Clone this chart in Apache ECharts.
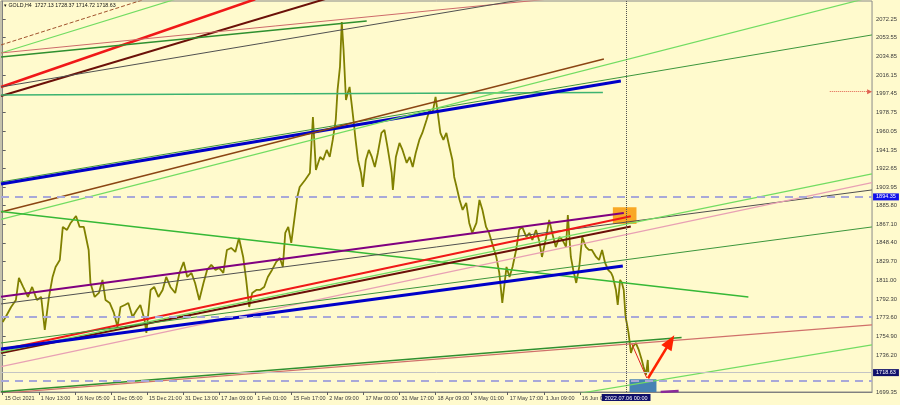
<!DOCTYPE html>
<html>
<head>
<meta charset="utf-8">
<script src="https://cdn.jsdelivr.net/npm/echarts@6/dist/echarts.min.js"></script>
<style>
html,body{margin:0;padding:0;background:#fffacd;}
#c{width:900px;height:405px;}
</style>
</head>
<body>
<div id="c"></div>
<script>
// ---------- DATA ----------
const xTickBars = [0,60,120,180,240,300,360,420,480,540,600,660,720,780,840,900,960];
const xTickLabels = ["15 Oct 2021","1 Nov 13:00","16 Nov 05:00","1 Dec 05:00","15 Dec 21:00","31 Dec 13:00","17 Jan 09:00","1 Feb 01:00","15 Feb 17:00","2 Mar 09:00","17 Mar 00:00","31 Mar 17:00","18 Apr 09:00","3 May 01:00","17 May 17:00","1 Jun 09:00","16 Jun 01:00"];
const yTickValues = [2072.25,2053.55,2034.85,2016.15,1997.45,1978.75,1960.05,1941.35,1922.65,1903.95,1885.80,1867.10,1848.40,1829.70,1811.00,1792.30,1773.60,1754.90,1736.20,1699.35];
const titleText = "\u25BE GOLD,H4  1727.13 1728.37 1714.72 1718.63";

// price path [bar index, price]
const priceSeries = [[0,1769.3],[5,1774.3],[14,1784.3],[22,1791.3],[27,1813.3],[34,1804.3],[42,1794.3],[49,1804.3],[57,1791.3],[64,1794.3],[70,1761.3],[77,1794.3],[83,1814.3],[88,1824.3],[95,1831.3],[100,1864.3],[107,1861.3],[113,1868.3],[122,1875.3],[128,1864.3],[135,1864.3],[143,1841.3],[146,1808.3],[153,1794.3],[160,1798.3],[166,1811.3],[171,1791.3],[178,1788.3],[185,1778.3],[191,1764.3],[196,1784.3],[203,1786.3],[209,1788.3],[216,1774.3],[223,1781.3],[229,1786.3],[236,1771.3],[239,1758.3],[246,1801.3],[252,1804.3],[259,1794.3],[266,1801.3],[272,1814.3],[279,1804.3],[287,1798.3],[294,1818.3],[301,1829.3],[307,1814.3],[314,1818.3],[320,1808.3],[327,1791.3],[334,1808.3],[340,1821.3],[347,1826.3],[354,1821.3],[360,1823.3],[367,1818.3],[373,1841.3],[380,1843.3],[387,1839.3],[393,1853.3],[400,1834.3],[405,1811.3],[410,1784.3],[415,1798.3],[422,1801.3],[428,1801.3],[435,1804.3],[441,1814.3],[448,1821.3],[455,1829.3],[461,1833.3],[466,1824.3],[470,1858.3],[475,1864.3],[480,1848.3],[485,1871.3],[490,1894.3],[494,1904.3],[503,1911.3],[511,1918.3],[516,1974.3],[521,1921.3],[528,1934.3],[533,1931.3],[539,1941.3],[544,1934.3],[549,1951.3],[554,1971.3],[557,2001.3],[561,2024.3],[564,2069.3],[567,2041.3],[571,1991.3],[574,1998.3],[577,2004.3],[581,1984.3],[584,1968.3],[587,1951.3],[591,1931.3],[596,1918.3],[599,1904.3],[604,1931.3],[609,1941.3],[614,1934.3],[619,1924.3],[624,1938.3],[630,1958.3],[635,1961.3],[640,1944.3],[647,1918.3],[649,1901.3],[654,1934.3],[660,1948.3],[665,1941.3],[672,1928.3],[677,1934.3],[682,1924.3],[687,1938.3],[693,1951.3],[698,1958.3],[705,1971.3],[710,1981.3],[715,1978.3],[720,1994.3],[723,1981.3],[728,1958.3],[733,1951.3],[738,1958.3],[743,1944.3],[748,1931.3],[751,1914.3],[755,1904.3],[760,1891.3],[765,1881.3],[771,1888.3],[776,1868.3],[781,1858.3],[788,1868.3],[793,1891.3],[798,1881.3],[804,1864.3],[809,1858.3],[814,1848.3],[821,1834.3],[826,1818.3],[831,1788.3],[838,1824.3],[843,1814.3],[848,1824.3],[854,1841.3],[859,1861.3],[864,1864.3],[871,1854.3],[876,1858.3],[881,1851.3],[887,1861.3],[892,1851.3],[897,1834.3],[904,1854.3],[909,1871.3],[914,1858.3],[920,1844.3],[926,1854.3],[931,1851.3],[937,1844.3],[940,1876.3],[945,1834.3],[949,1821.3],[954,1808.3],[959,1824.3],[964,1854.3],[970,1844.3],[975,1841.3],[980,1841.3],[987,1834.3],[992,1831.3],[997,1841.3],[1002,1828.3],[1007,1821.3],[1012,1818.3],[1015,1814.3],[1020,1801.3],[1023,1786.3],[1027,1811.3],[1030,1808.3],[1033,1801.3],[1036,1774.3],[1038,1768.3],[1041,1758.3],[1045,1738.3],[1048,1744.3],[1053,1748.3],[1058,1741.3],[1063,1731.3],[1066,1724.3],[1070,1716.3],[1073,1731.3],[1074,1718.63]];

// trend lines: [[bar, price], [bar, price]]
const lineDashedBrown   = [[-2.8,2046.3],[245.8,2093.8]];
const lineLightGreenTop = [[-2.8,2038.3],[287.2,2092.0]];
const lineRedTop        = [[-2.8,2004.3],[419.9,2092.0]];
const lineMaroonTop     = [[-2.8,1995.3],[544.2,2093.6]];
const lineIndianRedTop  = [[-2.8,2038.3],[925.4,2093.2]];
const lineGreenShortTop = [[-2.8,2034.3],[605.5,2070.3]];
const lineGrayTop       = [[-2.8,2004.3],[875.7,2092.8]];
const lineTealFlat      = [[-2.8,1996.3],[998.3,1998.8]];
const lineGreenUpper    = [[-2.8,1909.3],[1445.8,2056.3]];
const lineBlueUpper     = [[-2.8,1907.3],[1028.2,2010.3]];
const lineBrownUpper    = [[-2.8,1879.3],[1000,2032.3]];
const lineLightGreenUp  = [[-2.8,1871.8],[1439.2,2093.3]];
const lineGreenFalling  = [[-2.8,1879.8],[1240.3,1794.3]];
const linePurple        = [[-2.8,1794.6],[1033.1,1878.3]];
const lineGrayMid       = [[-2.8,1787.3],[1445.8,1901.3]];
const lineRedMid        = [[-2.8,1741.3],[1044.7,1875.0]];
const lineMaroonMid     = [[-2.8,1738.3],[1044.7,1864.7]];
const lineLightGreenMid = [[-2.8,1739.3],[1445.8,1917.3]];
const linePink          = [[-2.8,1724.6],[1445.8,1908.6]];
const lineGreenMid      = [[-2.8,1748.3],[1445.8,1864.3]];
const lineBlueLower     = [[-2.8,1742.3],[1031.5,1825.3]];
const lineGreenBottom   = [[-2.8,1699.6],[1129.2,1753.8]];
const lineSalmonBottom  = [[-2.8,1697.9],[1445.8,1766.3]];
const lineLightGreenLow = [[950.2,1697.0],[1445.8,1746.3]];
const lineRedDrop       = [[1046.4,1747.3],[1071.3,1713.3]];
const linePurpleStub    = [[1094.4,1699.3],[1124.3,1700.3]];
const arrowRed          = [[1073.4,1713.0],[1110.5,1749.6]];
const alertLine         = [[1375.7,1999.6],[1442.0,1999.6]];
const boxOrange         = [[1014.9,1884.0],[1054.2,1867.3]];
const boxBlue           = [[1042.6,1712.0],[1087.4,1696.0]];
const dashedLevels      = [1894.35,1774.5,1710.3];
const bidPrice          = 1718.63;
const cursorBar         = 1036.9;
const cursorLabel       = "2022.07.06 00:00";

// ---------- RENDER ----------
const FONT = "'Liberation Sans',Arial,sans-serif";
const LG = '#72dc62';
const styles = [
  [lineDashedBrown,   '#a0522d', 1,   'dashed'],
  [lineLightGreenTop, LG,        1.2, 'solid'],
  [lineRedTop,        '#f01818', 2.5, 'solid'],
  [lineMaroonTop,     '#6b1008', 2,   'solid'],
  [lineIndianRedTop,  '#cd6a6a', 1,   'solid'],
  [lineGreenShortTop, '#2f8f2f', 1.6, 'solid'],
  [lineGrayTop,       '#505050', 1,   'solid'],
  [lineTealFlat,      '#3cb371', 1.5, 'solid'],
  [lineGreenUpper,    '#3c963c', 1,   'solid'],
  [lineBlueUpper,     '#0000c8', 3,   'solid'],
  [lineBrownUpper,    '#8b4513', 1.5, 'solid'],
  [lineLightGreenUp,  LG,        1.2, 'solid'],
  [lineGreenFalling,  '#36b836', 1.5, 'solid'],
  [linePurple,        '#800080', 2,   'solid'],
  [lineGrayMid,       '#505050', 1,   'solid'],
  [lineRedMid,        '#f01818', 2,   'solid'],
  [lineMaroonMid,     '#6b1008', 2,   'solid'],
  [lineLightGreenMid, LG,        1.2, 'solid'],
  [linePink,          '#e8a0b4', 1.2, 'solid'],
  [lineGreenMid,      '#3c963c', 1,   'solid'],
  [lineBlueLower,     '#0000c8', 3,   'solid'],
  [lineGreenBottom,   '#2f8f2f', 1.5, 'solid'],
  [lineSalmonBottom,  '#d0706a', 1.2, 'solid'],
  [lineLightGreenLow, LG,        1.2, 'solid'],
  [lineRedDrop,       '#e02020', 1,   'solid'],
  [linePurpleStub,    '#8a2a9a', 2.5, 'solid']
];

const series = [];
series.push({
  type:'line', data:[], z:1, silent:true,
  markArea:{ silent:true, data:[
    [{coord:boxOrange[0], itemStyle:{color:'#f9a825', opacity:1}}, {coord:boxOrange[1]}],
    [{coord:boxBlue[0], itemStyle:{color:'#4682b4', opacity:1}}, {coord:boxBlue[1]}]
  ]}
});
const levelMarks = dashedLevels.map(v => {
  const m = {yAxis:v, lineStyle:{color:'#a8a8d8', width:2, type:[8,6]}, label:{show:false}};
  if (v === 1894.35) {
    m.label = {show:true, position:'end', distance:1, formatter:'1894.35', color:'#fff',
      backgroundColor:'#1010e8', padding:[1,3,0,3], fontSize:5.5, fontFamily:FONT};
  }
  return m;
});
levelMarks.push({yAxis:bidPrice, lineStyle:{color:'#c4c4c4', width:1, type:'solid'},
  label:{show:true, position:'end', distance:1, formatter:'1718.63', color:'#fff',
    backgroundColor:'#10106a', padding:[1,3,0,3], fontSize:5.5, fontFamily:FONT}});
levelMarks.push({xAxis:cursorBar, lineStyle:{color:'#505050', width:1, type:'dotted'},
  label:{show:true, position:'start', distance:2, formatter:cursorLabel, color:'#fff',
    backgroundColor:'#10106a', padding:[1,3,0,3], fontSize:5.5, fontFamily:FONT}});
series.push({
  type:'line', data:[], z:2, silent:true,
  markLine:{silent:true, symbol:['none','none'], animation:false, data:levelMarks}
});
series.push({
  type:'line', data:priceSeries, z:3, showSymbol:false, silent:true, clip:true,
  lineStyle:{color:'#808000', width:1.8}
});
styles.forEach(s => {
  series.push({
    type:'line', data:s[0], z:4, showSymbol:false, silent:true, clip:true,
    lineStyle:{color:s[1], width:s[2], type:s[3]}
  });
});
series.push({
  type:'line', data:[], z:5, silent:true,
  markLine:{silent:true, animation:false, data:[
    [{coord:arrowRed[0], symbol:'none', lineStyle:{color:'#ff2200', width:2.5, type:'solid'}},
     {coord:arrowRed[1], symbol:'triangle', symbolSize:[12,15]}],
    [{coord:alertLine[0], symbol:'none', lineStyle:{color:'#e06050', width:1, type:'dotted'}},
     {coord:alertLine[1], symbol:'triangle', symbolSize:[5,5]}]
  ], label:{show:false}}
});

const chart = echarts.init(document.getElementById('c'), null, {renderer:'canvas'});
chart.setOption({
  animation:false,
  backgroundColor:'#fffacd',
  graphic:[{type:'text', left:4, top:3, style:{text:titleText, fill:'#111', font:"5.3px " + FONT}}],
  grid:{left:1, right:26, top:1, bottom:13, show:true, borderColor:'#8a8a8a', borderWidth:1},
  xAxis:{
    type:'value', min:-2.8, max:1446,
    axisLine:{show:true, lineStyle:{color:'#808080'}},
    splitLine:{show:false},
    axisTick:{show:true, customValues:xTickBars, length:3, lineStyle:{color:'#606060'}},
    axisLabel:{customValues:xTickBars, formatter:v => xTickLabels[xTickBars.indexOf(v)] || '',
      showMinLabel:true, hideOverlap:false,
      align:'left', margin:3, padding:[0,0,0,2], fontSize:5.5, color:'#3a3a3a', fontFamily:FONT}
  },
  yAxis:{
    type:'value', position:'right', min:1699.25, max:2090.25, scale:true,
    axisLine:{show:true, lineStyle:{color:'#808080'}},
    splitLine:{show:false},
    axisTick:{show:true, customValues:yTickValues, length:3, lineStyle:{color:'#606060'}},
    axisLabel:{customValues:yTickValues, formatter:v => v.toFixed(2), margin:4,
      showMinLabel:true, showMaxLabel:true, hideOverlap:false,
      fontSize:5.8, color:'#3a3a3a', fontFamily:FONT}
  },
  series:series
});
</script>
</body>
</html>
